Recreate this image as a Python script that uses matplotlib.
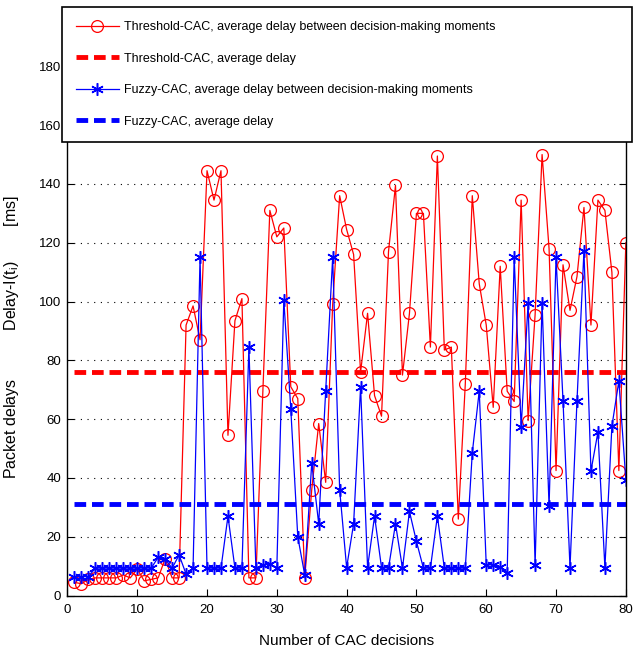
import numpy as np
import matplotlib.pyplot as plt

# CAC decision index
decisions = np.arange(1, 81)

# Threshold-CAC, average delay between decision-making moments [ms]
threshold_delay = [4.5, 4, 5.5, 6, 6, 6, 6, 7, 6, 9,
                   5, 5.5, 6, 12.5, 6, 6, 92, 98.5, 87, 144.5,
                   134.5, 144.5, 54.5, 93.5, 101, 6, 6, 69.5, 131, 122,
                   125, 71, 67, 6, 36, 58.5, 38.5, 99, 136, 124.5,
                   116, 76, 96, 68, 61, 117, 139.5, 75, 96, 130,
                   130, 84.5, 149.5, 83.5, 84.5, 26, 72, 136, 106, 92,
                   64, 112, 69.5, 66, 134.5, 59.5, 95.5, 150, 118, 42.5,
                   112.5, 97, 108.5, 132, 92, 134.5, 131, 110, 42.5, 120]

# Fuzzy-CAC, average delay between decision-making moments [ms]
fuzzy_delay = [6.4, 6.4, 6.4, 9.3, 9.3, 9.3, 9.3, 9.3, 9.3, 9.3,
               9.3, 9.3, 13, 12.4, 9.3, 13.8, 7.3, 9.3, 115, 9.3,
               9.3, 9.3, 27, 9.3, 9.3, 84.5, 9.3, 10.4, 10.7, 9.3,
               100.6, 63.5, 20, 7, 45, 24.4, 69.6, 115, 36, 9.5,
               24.4, 71, 9.5, 27, 9.5, 9.3, 24.4, 9.3, 28.6, 18.4,
               9.3, 9.3, 27, 9.3, 9.3, 9.3, 9.3, 48.5, 69.6, 10.4,
               10.4, 9.6, 7.8, 115, 57.2, 99.6, 10.4, 99.6, 30.3, 115,
               66.2, 9.5, 66.2, 117.3, 42.3, 55.6, 9.5, 57.5, 73, 39.4]

threshold_avg = 76
fuzzy_avg = 31

font = ['Liberation Sans', 'DejaVu Sans']

fig = plt.figure(figsize=(6.33, 6.55), dpi=100)
ax = fig.add_axes([0.1065, 0.0908, 0.8822, 0.8977])

ax.plot(decisions, threshold_delay, color='red', lw=0.9, marker='o',
        ms=8.5, mfc='none', mec='red', mew=0.9,
        label='Threshold-CAC, average delay between decision-making moments')
ax.plot([decisions[0], decisions[-1]], [threshold_avg, threshold_avg],
        color='red', lw=3.5, dashes=(2.4, 1.2), label='Threshold-CAC, average delay')
ax.plot(decisions, fuzzy_delay, color='blue', lw=0.9, marker=(6, 2, 0),
        ms=9, mec='blue', mew=1.1,
        label='Fuzzy-CAC, average delay between decision-making moments')
ax.plot([decisions[0], decisions[-1]], [fuzzy_avg, fuzzy_avg],
        color='blue', lw=3.5, dashes=(2.4, 1.2), label='Fuzzy-CAC, average delay')

ax.set_xlim(0, 80)
ax.set_ylim(0, 200)
ax.set_xticks(np.arange(0, 81, 10))
ax.set_yticks(np.arange(0, 181, 20))
ax.yaxis.grid(True, linestyle=(0, (1, 5)), color='black', lw=0.8)
ax.tick_params(direction='in', top=True, right=True, length=5, width=0.8)
ax.tick_params(axis='y', pad=4.5)
ax.tick_params(axis='x', pad=6)
for lab in ax.get_xticklabels() + ax.get_yticklabels():
    lab.set_family(font)
    lab.set_fontsize(9.5)
for s in ax.spines.values():
    s.set_linewidth(1.0)

ax.set_xlabel('Number of CAC decisions', family=font, fontsize=11)
ax.set_ylabel('Packet delays           Delay-I(t$_\\mathregular{i}$)        [ms]',
              family=font, fontsize=11.5)
ax.yaxis.set_label_coords(-0.084, 0.44)
ax.xaxis.set_label_coords(0.5, -0.065)

leg = ax.legend(loc='upper left', bbox_to_anchor=(0.0975, 0.7832, 0.901, 0.2061),
                bbox_transform=fig.transFigure, mode='expand', borderaxespad=0,
                prop={'family': font, 'size': 9}, handlelength=3.4,
                handletextpad=0.4, labelspacing=1.55, borderpad=1.15,
                fancybox=False, framealpha=1, edgecolor='black')
leg.get_frame().set_linewidth(1.2)

fig.savefig('out.png', dpi=100)
